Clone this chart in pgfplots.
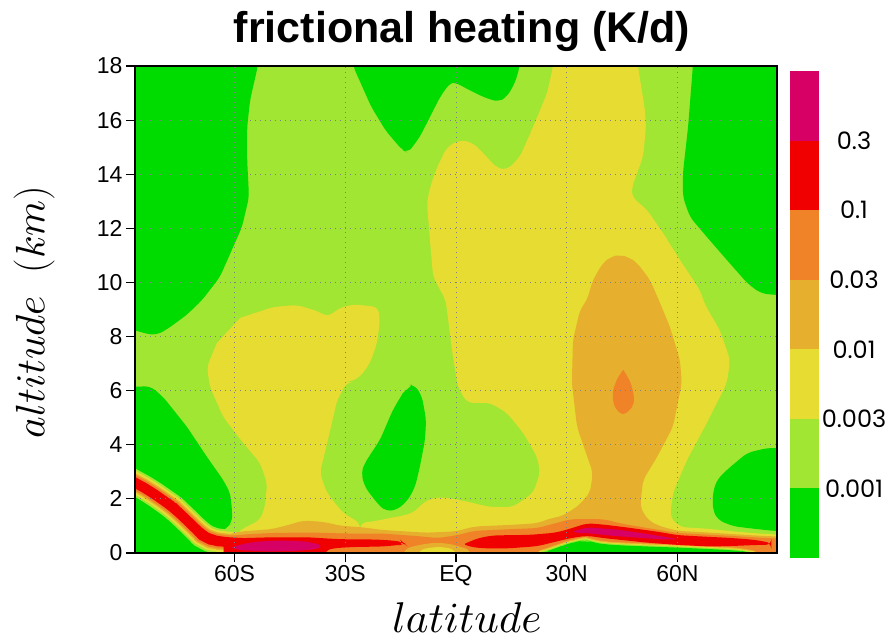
\RequirePackage{fix-cm}
\documentclass[border=0pt]{standalone}
\usepackage{fontspec}
\usepackage{pgfplots}
\pgfplotsset{compat=1.18}
\setmainfont{Liberation Sans}
\newfontfamily\cbfont{Poppins}
\DeclareFontShape{OML}{cmm}{m}{it}{<->cmmi10}{}
\definecolor{cgreen}{RGB}{0,220,0}
\definecolor{lgreen}{RGB}{160,230,50}
\definecolor{cyellow}{RGB}{230,220,50}
\definecolor{cgold}{RGB}{230,175,45}
\definecolor{corange}{RGB}{240,130,40}
\definecolor{cred}{RGB}{240,0,0}
\definecolor{cmag}{RGB}{215,0,100}
\tikzset{reg/.style={fill=#1, draw=none, rounded corners=6pt},
         band/.style 2 args={draw=#1, line width=#2, line join=round, line cap=round, rounded corners=10pt}}
\begin{document}
\begin{tikzpicture}
\path[use as bounding box] (0,0) rectangle (893pt,640pt);
\node[font=\bfseries\fontsize{43}{50}\selectfont, anchor=base] at (462pt,597pt) {frictional heating (K/d)};
\begin{axis}[
  at={(135pt,87pt)}, anchor=south west,
  scale only axis, width=642pt, height=487pt,
  xmin=-87, xmax=87, ymin=0, ymax=18,
  xtick={-60,-30,0,30,60}, xticklabels={60S,30S,EQ,30N,60N},
  ytick={0,2,...,18},
  tick align=outside, tick pos=left,
  major tick length=9pt,
  tick style={black, line width=1.2pt},
  grid=major,
  major grid style={gray, line width=0.9pt, dash pattern=on 1pt off 4pt},
  axis line style={black, line width=1.5pt},
  axis on top,
  ticklabel style={font=\fontsize{23}{27}\selectfont},
  /pgf/number format/assume math mode=true,
  xlabel={$latitude$},
  xlabel style={at={(axis description cs:0.517,-0.164)}, anchor=base, inner sep=0pt, font=\fontsize{43}{50}\selectfont},
  ylabel={$altitude\ \ (km)$},
  ylabel style={at={(axis description cs:-0.157,0.495)}, anchor=center, font=\fontsize{41}{50}\selectfont},
]
% background > 0.001
\addplot[fill=lgreen, draw=none] coordinates {(-92,-1) (92,-1) (92,19) (-92,19)};
% green regions < 0.001
\addplot[reg=cgreen] coordinates {(-92,19) (-53.7,19) (-53.7,18) (-55.8,16.75) (-56.6,15.75) (-56.6,14.53) (-56.1,13.16) (-58.0,12.05) (-64.0,10.20) (-68.8,9.35) (-73,8.8) (-78,8.3) (-81,8.06) (-84,8.1) (-87,8.24) (-92,8.24)};
\addplot[reg=cgreen] coordinates {(-27.9,19) (-27.9,18) (-23,16.5) (-19,15.6) (-14.6,14.90) (-13.0,14.79) (-9.8,15.38) (-4.3,16.86) (-1.6,17.38) (-0.3,17.41) (1.9,17.23) (7.3,16.86) (11.4,16.67) (13.8,16.86) (16.0,17.38) (17.3,18) (17.3,19)};
\addplot[reg=cgreen] coordinates {(64.2,19) (64.2,18) (62.9,15.75) (61.5,14.05) (61.5,13.16) (63.4,12.42) (68.0,11.68) (73.4,10.83) (78.9,9.98) (82.4,9.61) (85.9,9.54) (92,9.54) (92,19)};
\addplot[reg=cgreen] coordinates {(-92,6.14) (-87,6.14) (-82.9,6.17) (-79.4,5.77) (-72.9,4.66) (-67.5,3.55) (-63.1,2.70) (-61.2,2.22) (-60.7,1.6) (-60.7,1.11) (-62.1,0.96) (-64,0.7) (-66.7,0.5) (-68.8,0.65) (-71.3,1.0) (-74.8,1.45) (-76.7,1.7) (-79.4,1.95) (-83,2.3) (-87,2.6) (-92,3.0)};
\addplot[fill=cgreen, draw=none] coordinates {(-92,3.0) (-87,2.6) (-83,2.3) (-79.4,1.95) (-76.7,1.7) (-74.8,1.45) (-71.3,1.0) (-68.8,0.65) (-66.7,0.5) (-64,0.42) (-64,-1) (-92,-1)};
\addplot[reg=cgreen] coordinates {(-11.9,6.21) (-11.1,6.21) (-9.2,5.77) (-8.1,4.92) (-8.4,4.18) (-9.8,3.18) (-11.1,2.44) (-13.0,1.96) (-16.0,1.59) (-19.2,1.55) (-21.4,1.85) (-24.7,2.44) (-25.7,2.96) (-24.7,3.33) (-20.6,4.18) (-17.1,5.29) (-14.4,5.91)};
\addplot[reg=cgreen] coordinates {(92,3.88) (84.3,3.88) (78.9,3.70) (73.4,3.07) (70.7,2.70) (69.6,2.22) (69.6,1.59) (71,1.22) (75.1,0.99) (80.5,0.9) (85.9,0.82) (92,0.8)};
% diagonal boundary layer band (SH)
\addplot[band={lgreen}{25pt}] coordinates {(-95,3.2) (-87,2.6) (-83,2.3) (-79.4,1.95) (-76.7,1.7) (-74.8,1.45) (-71.3,1.0) (-68.8,0.65) (-66.7,0.5) (-64,0.42) (-60,0.38) (-56,0.36)};
% yellow 0.003-0.01
\addplot[reg=cyellow] coordinates {(26.3,19) (49.3,19) (49.3,18) (51.2,16.38) (51.5,15.75) (50.7,14.64) (49.1,14.05) (47.7,13.53) (47.7,13.16) (51.8,12.68) (56.1,11.83) (60.7,10.83) (66.1,9.72) (67.5,9.17) (71.5,8.24) (74.3,7.13) (73.4,6.28) (68.0,4.81) (62.6,3.44) (58.8,2.22) (58.0,1.33) (60.7,0.96) (68,0.9) (75,0.8) (82,0.72) (92,0.65) (92,-1) (-26,-1) (-26,1.11) (-21,1.2) (-18,1.3) (-16,1.33) (-11.7,1.48) (-7.9,1.96) (-4.3,2.07) (1.1,1.96) (9.2,1.7) (15.4,1.7) (20.9,2.22) (22.8,2.96) (22,3.55) (18.2,4.44) (13.8,5.18) (9.2,5.55) (3.0,5.55) (0.5,6.14) (-1.1,7.5) (-2.8,9.35) (-6.2,10.20) (-7,11.46) (-7.9,12.94) (-7,13.53) (-5.1,14.27) (-2.4,15.01) (1.1,15.27) (4.6,15.16) (7.3,14.79) (11.1,14.23) (13.8,14.16) (17.3,14.64) (20.9,15.75) (24.7,17.0) (26.3,18)};
\addplot[reg=cyellow] coordinates {(-58.5,8.69) (-49.6,9.09) (-43.1,9.17) (-36.9,8.91) (-35,8.72) (-31.4,9.06) (-28.7,9.17) (-26,9.17) (-21.1,9.09) (-20.6,8.61) (-21.4,7.76) (-23.3,7.02) (-26,6.51) (-28.7,6.32) (-29.5,6.32) (-32.2,5.66) (-34.5,4.3) (-36.9,2.96) (-35,2.22) (-30.6,1.48) (-26,1.11) (-26,-1) (-60,-1) (-60,0.6) (-58.5,0.85) (-53.1,1.22) (-51.8,1.70) (-51.2,2.59) (-53.1,3.33) (-57.7,4.07) (-63.1,5.03) (-66.7,6.14) (-67.5,6.88) (-64.8,7.76)};
\addplot[band={cyellow}{21pt}] coordinates {(-95,3.2) (-87,2.6) (-83,2.3) (-79.4,1.95) (-76.7,1.7) (-74.8,1.45) (-71.3,1.0) (-68.8,0.65) (-66.7,0.5) (-64,0.42) (-60,0.38) (-56,0.36)};
% gold 0.01-0.03
\addplot[reg=cgold] coordinates {(-62,-1) (-62,0.7) (-58,0.8) (-50,0.88) (-45,1.05) (-41.5,1.2) (-36,1.15) (-31,1.0) (-26,0.96) (-20,0.85) (-14,0.8) (-8,0.75) (0,0.8) (5,0.98) (15,1.04) (22,1.1) (26,1.3) (28.2,1.33) (32.8,1.70) (36.3,2.22) (37.1,2.96) (32.8,4.66) (31.4,6.28) (31.7,7.87) (33.6,8.98) (35.5,9.35) (37.1,10.09) (39.8,10.72) (42,10.95) (44.4,11.02) (47,10.92) (49.1,10.72) (52.6,10.09) (55.3,9.24) (58.0,8.35) (60.7,7.13) (61.2,6.28) (58.8,4.66) (54.5,3.55) (50.7,2.70) (49.9,1.70) (52,1.22) (55,1.0) (60,0.82) (68,0.76) (75,0.7) (82,0.64) (92,0.58) (92,-1)};
\addplot[band={cgold}{17pt}] coordinates {(-95,3.2) (-87,2.6) (-83,2.3) (-79.4,1.95) (-76.7,1.7) (-74.8,1.45) (-71.3,1.0) (-68.8,0.65) (-66.7,0.5) (-64,0.42) (-60,0.38) (-56,0.36)};
% orange 0.03-0.1
\addplot[reg=corange] coordinates {(-62,-1) (-62,0.62) (-58,0.68) (-50,0.74) (-40,0.76) (-30,0.72) (-20,0.72) (-10,0.62) (-5,0.55) (0,0.65) (5,0.82) (15,0.88) (22,0.92) (27,1.1) (31,1.25) (40,1.25) (45,1.08) (52,0.92) (60,0.74) (68,0.68) (75,0.63) (82,0.57) (92,0.5) (92,-1)};
\addplot[fill=corange, draw=none, smooth, tension=0.6] coordinates {(45.3,6.77) (47.2,6.32) (48.2,5.77) (47.7,5.40) (45.3,5.14) (43.1,5.40) (42.5,5.91) (43.6,6.40) (45.3,6.77)};
\addplot[band={corange}{14pt}] coordinates {(-95,3.2) (-87,2.6) (-83,2.3) (-79.4,1.95) (-76.7,1.7) (-74.8,1.45) (-71.3,1.0) (-68.8,0.65) (-66.7,0.5) (-64,0.42) (-60,0.38) (-56,0.36)};
% low-value pockets at the ground
\addplot[band={cgold}{6pt}] coordinates {(23,0) (26,0.12) (29,0.28) (32,0.4) (35,0.48) (37.5,0.38) (40,0.32) (45,0.28) (52,0.24) (60,0.2) (68,0.15) (74,0.11) (78,0.06) (80,0)};
\addplot[band={cyellow}{4pt}] coordinates {(23,0) (26,0.12) (29,0.28) (32,0.4) (35,0.48) (37.5,0.38) (40,0.32) (45,0.28) (52,0.24) (60,0.2) (68,0.15) (74,0.11) (78,0.06) (80,0)};
\addplot[band={lgreen}{2.2pt}] coordinates {(23,0) (26,0.12) (29,0.28) (32,0.4) (35,0.48) (37.5,0.38) (40,0.32) (45,0.28) (52,0.24) (60,0.2) (68,0.15) (74,0.11) (78,0.06) (80,0)};
\addplot[reg=cgreen, rounded corners=10pt] coordinates {(23,-1) (23,0) (26,0.12) (29,0.28) (32,0.4) (35,0.48) (37.5,0.38) (40,0.32) (45,0.28) (52,0.24) (60,0.2) (68,0.15) (74,0.11) (78,0.06) (80,0) (80,-1)};
\addplot[reg=cgold] coordinates {(-16,-1) (-14,0.15) (-10,0.3) (-6,0.38) (-2,0.35) (2,0.2) (4,0.1) (5,-1)};
\addplot[reg=cyellow] coordinates {(-12,-1) (-10,0.12) (-6,0.22) (-3,0.22) (0,0.1) (1.5,-1)};
% red 0.1-0.3
\addplot[reg=cred] coordinates {(-63,-1) (-63,0.5) (-58,0.55) (-50,0.58) (-40,0.58) (-33,0.52) (-28,0.5) (-22,0.5) (-17,0.46) (-14.4,0.4) (-14,0.35) (-15,0.3) (-20,0.24) (-28,0.22) (-33,0.18) (-35.5,0.1) (-37,-1)};
\addplot[reg=cred] coordinates {(2.5,0.35) (6,0.55) (10,0.65) (20,0.67) (27,0.75) (31,0.9) (35.5,1.1) (40,1.05) (46,0.95) (55,0.78) (60,0.66) (68,0.6) (74,0.56) (80,0.5) (83,0.44) (85.5,0.36) (85.5,0.3) (82,0.3) (75,0.26) (68.8,0.24) (60,0.3) (52,0.38) (45,0.48) (40,0.55) (35.5,0.64) (31,0.55) (28,0.45) (22,0.25) (14,0.17) (8,0.17) (4,0.22) (2.5,0.3)};
\addplot[band={cred}{10pt}] coordinates {(-95,3.2) (-87,2.6) (-83,2.3) (-79.4,1.95) (-76.7,1.7) (-74.8,1.45) (-71.3,1.0) (-68.8,0.65) (-66.7,0.5) (-64,0.42) (-60,0.38) (-56,0.36)};
% magenta > 0.3
\addplot[reg=cmag] coordinates {(-61,0.2) (-58,0.33) (-54,0.42) (-48,0.46) (-42,0.44) (-38,0.36) (-36,0.25) (-38,0.14) (-44,0.07) (-52,0.06) (-58,0.1)};
\addplot[reg=cmag] coordinates {(31.7,0.8) (35.5,0.95) (44,0.86) (52,0.7) (60.7,0.5) (56,0.5) (50,0.56) (42,0.64) (35.5,0.74) (33,0.74)};
\end{axis}
% colour bar
\begin{axis}[
  at={(790pt,82pt)}, anchor=south west,
  scale only axis, width=29pt, height=487pt,
  xmin=0, xmax=1, ymin=0, ymax=7,
  hide axis, clip=false,
]
\addplot[fill=cgreen, draw=none] coordinates {(0,0) (1,0) (1,1) (0,1)};
\addplot[fill=lgreen, draw=none] coordinates {(0,1) (1,1) (1,2) (0,2)};
\addplot[fill=cyellow, draw=none] coordinates {(0,2) (1,2) (1,3) (0,3)};
\addplot[fill=cgold, draw=none] coordinates {(0,3) (1,3) (1,4) (0,4)};
\addplot[fill=corange, draw=none] coordinates {(0,4) (1,4) (1,5) (0,5)};
\addplot[fill=cred, draw=none] coordinates {(0,5) (1,5) (1,6) (0,6)};
\addplot[fill=cmag, draw=none] coordinates {(0,6) (1,6) (1,7) (0,7)};
\node[font=\cbfont\fontsize{24}{28}\selectfont] at (axis cs:2.207,1) {0.001};
\node[font=\cbfont\fontsize{24}{28}\selectfont] at (axis cs:2.207,2) {0.003};
\node[font=\cbfont\fontsize{24}{28}\selectfont] at (axis cs:2.207,3) {0.01};
\node[font=\cbfont\fontsize{24}{28}\selectfont] at (axis cs:2.207,4) {0.03};
\node[font=\cbfont\fontsize{24}{28}\selectfont] at (axis cs:2.207,5) {0.1};
\node[font=\cbfont\fontsize{24}{28}\selectfont] at (axis cs:2.207,6) {0.3};
\end{axis}
\end{tikzpicture}
\end{document}
